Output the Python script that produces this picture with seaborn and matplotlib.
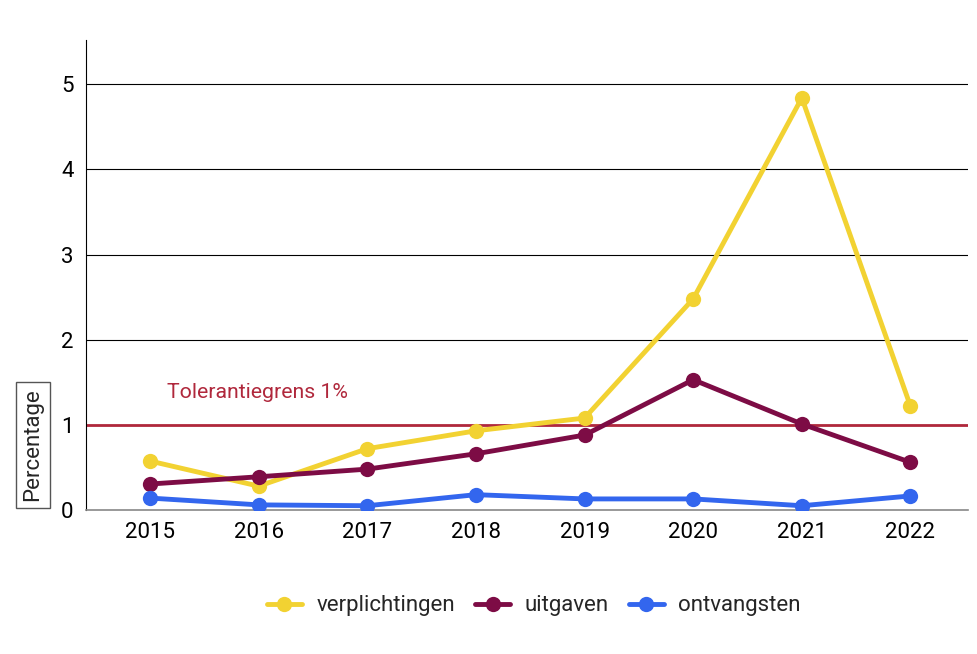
import matplotlib
matplotlib.use("Agg")
import matplotlib.pyplot as plt
import seaborn as sns
import pandas as pd

years = ["2015", "2016", "2017", "2018", "2019", "2020", "2021", "2022"]
verplichtingen = [0.575, 0.28, 0.72, 0.93, 1.08, 2.48, 4.84, 1.22]
uitgaven = [0.305, 0.39, 0.48, 0.66, 0.88, 1.53, 1.01, 0.56]
ontvangsten = [0.14, 0.06, 0.05, 0.18, 0.13, 0.13, 0.05, 0.165]
series_names = ["verplichtingen", "uitgaven", "ontvangsten"]
colors = ["#F2D232", "#7D0C45", "#3366EE"]
tolerance = 1.0
tolerance_label = "Tolerantiegrens 1%"

sns.set_theme(style="white")
plt.rcParams['font.family'] = ['Roboto', 'DejaVu Sans']

rows = []
for name, vals in zip(series_names, [verplichtingen, uitgaven, ontvangsten]):
    for i, (y, v) in enumerate(zip(years, vals)):
        rows.append({"idx": i, "year": y, "value": v, "serie": name})
df = pd.DataFrame(rows)

fig = plt.figure(figsize=(9.78, 6.54), dpi=100)
ax = fig.add_axes([0.0879, 0.2202, 0.9019, 0.7186])

for y in [1, 2, 3, 4, 5]:
    ax.axhline(y, color="black", lw=0.8, zorder=0)

sns.lineplot(data=df, x="idx", y="value", hue="serie", hue_order=series_names,
             palette=colors, marker="o", markersize=11, markeredgewidth=0,
             linewidth=3.5, ax=ax, zorder=3)

ax.axhline(tolerance, color="#B0283C", lw=2, zorder=2)
ax.text(0.985, 1.385, tolerance_label, color="#B0283C", fontsize=15.3,
        ha="center", va="center")

ax.set_xlim(-0.59, 7.53)
ax.set_ylim(0, 5.52)
ax.set_xticks(range(len(years)))
ax.set_xticklabels(years)
ax.set_yticks([0, 1, 2, 3, 4, 5])
ax.tick_params(axis="both", length=0, labelsize=16, colors="black", pad=9)
ax.set_xlabel("")
ax.set_ylabel("")

for s in ["top", "right"]:
    ax.spines[s].set_visible(False)
ax.spines["left"].set_color("black")
ax.spines["left"].set_linewidth(0.8)
ax.spines["bottom"].set_color("#888888")
ax.spines["bottom"].set_linewidth(1.2)

fig.text(0.0337, 0.3196, "Percentage", rotation=90, fontsize=16, ha="center", va="center",
         bbox=dict(boxstyle="square,pad=0.3", fc="white", ec="#555555", lw=1))

leg = ax.legend(loc="center", bbox_to_anchor=(0.5075, -0.204), ncol=3, frameon=False,
                fontsize=16, handlelength=1.6, columnspacing=0.9, handletextpad=0.63)

fig.savefig("out.png", dpi=100)
